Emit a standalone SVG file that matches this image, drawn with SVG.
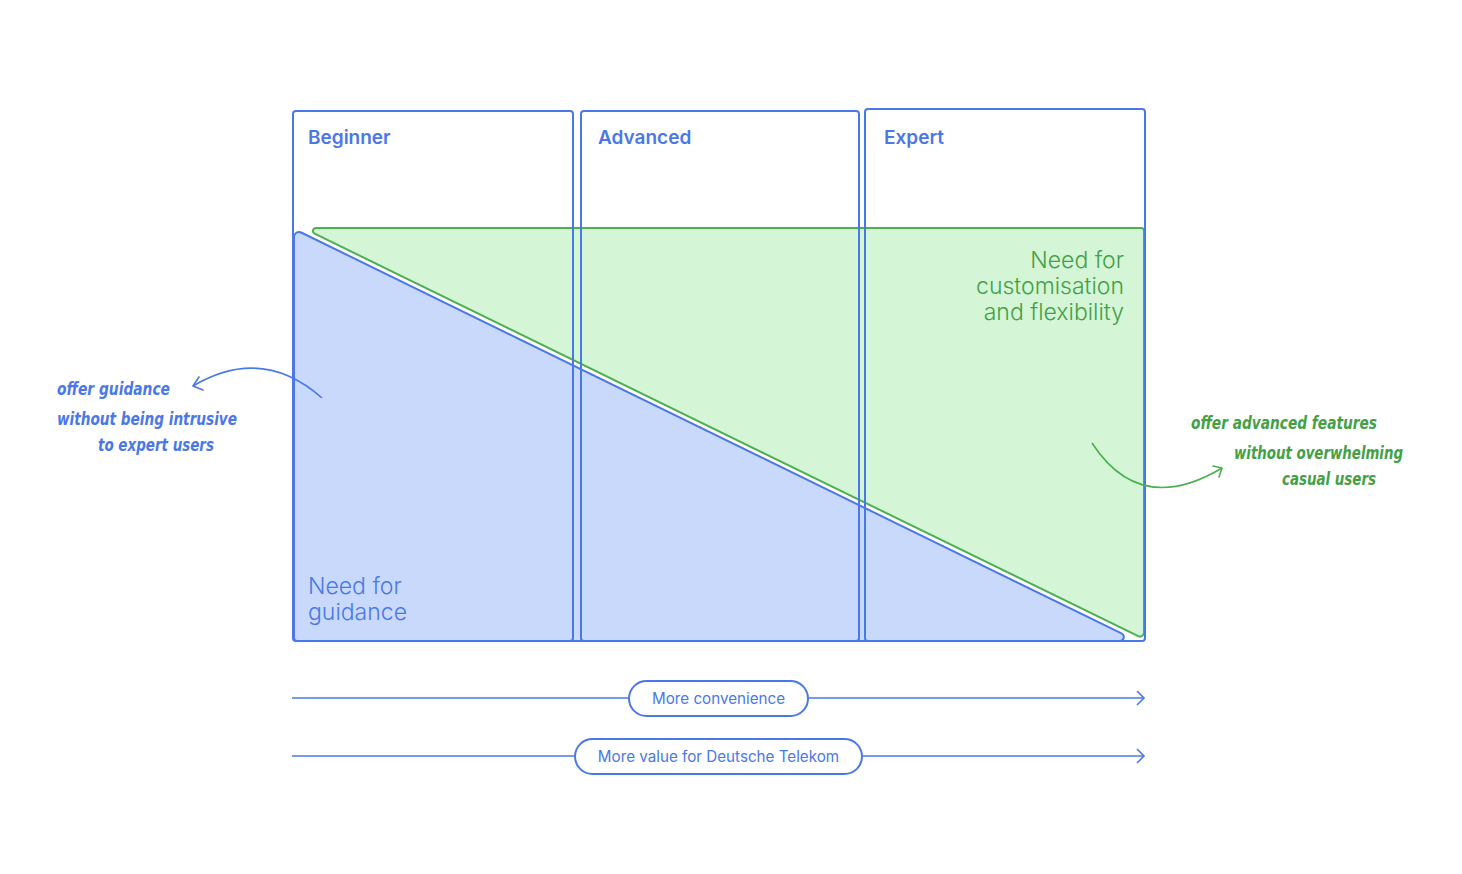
<svg xmlns="http://www.w3.org/2000/svg" width="1462" height="874" viewBox="0 0 1462 874">
<style>
.col{fill:none;stroke:#4a78e8;stroke-width:2}
.title{font-family:Inter,"Liberation Sans",sans-serif;font-size:19px;font-weight:600;fill:#4a78e8}
.big{font-family:Inter,"Liberation Sans",sans-serif;font-size:23px;font-weight:300}
.hand{font-family:"DejaVu Sans Condensed","DejaVu Sans",sans-serif;font-style:oblique;font-size:17px;font-weight:bold}
.pill{fill:#fff;stroke:#4a78e8;stroke-width:2}
.pilltxt{font-family:Inter,"Liberation Sans",sans-serif;font-size:15.2px;fill:#4a78e8;text-anchor:middle}
.axis{fill:none;stroke:#4a78e8;stroke-width:1.6}
</style>
<rect width="1462" height="874" fill="#fff"/>
<g id="green-area">
<path d="M316,228 L1141,228 A3,3 0 0 1 1144,231 L1144,632.6 A4,4 0 0 1 1138.25,636.2 L314.7,233.7 A3,3 0 0 1 316,228 Z" fill="#d4f6d6" stroke="#4caf50" stroke-width="2" stroke-linejoin="round"/>
<text class="big" fill="#43a047" text-anchor="end"><tspan x="1124" y="268">Need for</tspan><tspan x="1124" y="294">customisation</tspan><tspan x="1124" y="320">and flexibility</tspan></text>
</g>
<g id="blue-area">
<path d="M294,237 L294,638 A3,3 0 0 0 297,641 L1119.7,641 A4,4 0 0 0 1121.5,633.4 L301.2,232.5 A5,5 0 0 0 294,237 Z" fill="#c9d9fc" stroke="#4a78e8" stroke-width="2" stroke-linejoin="round"/>
<text class="big" fill="#4a78e8"><tspan x="308" y="594">Need for</tspan><tspan x="308" y="620">guidance</tspan></text>
</g>
<g id="beginner">
<rect class="col" x="293" y="111" width="280" height="530" rx="3"/>
<text class="title" x="308" y="144">Beginner</text>
</g>
<g id="advanced">
<rect class="col" x="581" y="111" width="278" height="530" rx="3"/>
<text class="title" x="598" y="144">Advanced</text>
</g>
<g id="expert">
<rect class="col" x="865" y="109" width="280" height="532" rx="3"/>
<text class="title" x="884" y="144">Expert</text>
</g>
<g id="connectors">
<line class="axis" x1="292" y1="698" x2="1144" y2="698"/>
<polyline class="axis" points="1137,691 1144,698 1137,705"/>
<line class="axis" x1="292" y1="756" x2="1144" y2="756"/>
<polyline class="axis" points="1137,749 1144,756 1137,763"/>
<path d="M322,398 Q262,345 193,386" fill="none" stroke="#4a78e8" stroke-width="1.6"/>
<polyline points="199,377 193,386 203,390" fill="none" stroke="#4a78e8" stroke-width="1.6" stroke-linecap="round" stroke-linejoin="round"/>
<path d="M1092,443 Q1140,517 1222,468" fill="none" stroke="#4caf50" stroke-width="1.6"/>
<polyline points="1213,466 1222,468 1219,477" fill="none" stroke="#4caf50" stroke-width="1.6" stroke-linecap="round" stroke-linejoin="round"/>
</g>
<g id="pill-convenience">
<rect class="pill" x="629" y="681" width="179" height="35" rx="17.5"/>
<text class="pilltxt" x="718.5" y="704">More convenience</text>
</g>
<g id="pill-value">
<rect class="pill" x="575" y="739" width="287" height="35" rx="17.5"/>
<text class="pilltxt" x="718.5" y="762">More value for Deutsche Telekom</text>
</g>
<g id="note-left" fill="#4a78e8">
<text class="hand" x="57" y="395" textLength="113" lengthAdjust="spacingAndGlyphs">offer guidance</text>
<text class="hand" x="57" y="425" textLength="180" lengthAdjust="spacingAndGlyphs">without being intrusive</text>
<text class="hand" x="98" y="451" textLength="116" lengthAdjust="spacingAndGlyphs">to expert users</text>
</g>
<g id="note-right" fill="#43a047">
<text class="hand" x="1191" y="429" textLength="186" lengthAdjust="spacingAndGlyphs">offer advanced features</text>
<text class="hand" x="1234" y="459" textLength="169" lengthAdjust="spacingAndGlyphs">without overwhelming</text>
<text class="hand" x="1282" y="485" textLength="94" lengthAdjust="spacingAndGlyphs">casual users</text>
</g>
</svg>
